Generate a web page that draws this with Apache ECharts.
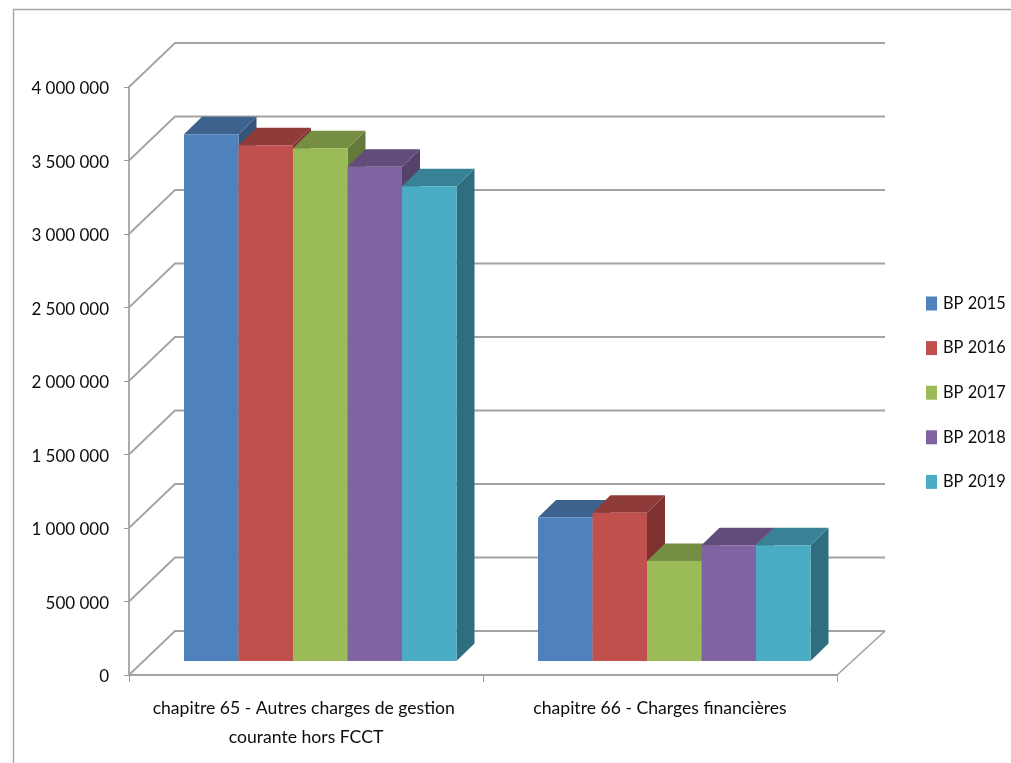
<!DOCTYPE html>
<html lang="fr">
<head>
<meta charset="utf-8">
<title>Charges par chapitre</title>
<script src="https://cdn.jsdelivr.net/npm/echarts@6/dist/echarts.min.js"></script>
<style>
  html, body { margin: 0; padding: 0; background: #fff; }
  #chart { width: 1011px; height: 763px; }
</style>
</head>
<body>
<div id="chart"></div>
<script>
// Budget lines per chapter
const categories = [
  'chapitre 65 - Autres charges de gestion courante hors FCCT',
  'chapitre 66 - Charges financières'
];
const bp2015 = [3584000, 977000];
const bp2016 = [3508000, 1008000];
const bp2017 = [3488000, 680000];
const bp2018 = [3363000, 787000];
const bp2019 = [3230000, 787000];
const seriesNames = ['BP 2015', 'BP 2016', 'BP 2017', 'BP 2018', 'BP 2019'];
const yTicks = [0, 500000, 1000000, 1500000, 2000000, 2500000, 3000000, 3500000, 4000000];

// Front, top and side shades of each column colour
const shades = [
  { front: '#4f81bd', top: '#3d628e', side: '#345579' },
  { front: '#c0504d', top: '#8e3b39', side: '#7d322f' },
  { front: '#9bbb59', top: '#768e44', side: '#657a3a' },
  { front: '#8064a2', top: '#614c7b', side: '#54426b' },
  { front: '#4bacc6', top: '#388296', side: '#2f6e80' }
];

// Oblique projection used for the pseudo 3D look
const WALL_DX = 46, WALL_DY = -44;   // floor depth, axis plane to back wall
const FRONT_DY = -14;                // axis plane to front of the columns
const COL_DX = 18, COL_DY = -17.5;   // depth of a column
const BAND_PAD = 55;                 // gap from category edge to first column
const COL_W = 54.5;

const gridLine = '#a3a3a3';
const labelColor = '#0d0d0d';

function poly(points, fill) {
  return { type: 'polygon', shape: { points }, style: { fill, stroke: null } };
}

function columnRenderer(seriesIdx) {
  return function (params, api) {
    const cat = api.value(0);
    const base = api.coord([cat, 0]);
    const head = api.coord([cat, api.value(1)]);
    const band = api.size([1, 0])[0];
    const x0 = base[0] - band / 2 + BAND_PAD + seriesIdx * COL_W;
    const x1 = x0 + COL_W;
    const yB = base[1] + FRONT_DY;
    const yT = head[1] + FRONT_DY;
    const c = shades[seriesIdx];
    return {
      type: 'group',
      children: [
        poly([[x1, yT], [x1 + COL_DX, yT + COL_DY], [x1 + COL_DX, yB + COL_DY], [x1, yB]], c.side),
        poly([[x0, yT], [x0 + COL_DX, yT + COL_DY], [x1 + COL_DX, yT + COL_DY], [x1, yT]], c.top),
        poly([[x0, yT], [x1, yT], [x1, yB], [x0, yB]], c.front)
      ]
    };
  };
}

// Gridlines run up the left side wall, then along the back wall
function wallRenderer(params, api) {
  const cs = params.coordSys;
  const p = api.coord([0, api.value(1)]);
  const left = cs.x;
  const right = cs.x + cs.width;
  const children = [{
    type: 'polyline',
    shape: { points: [[left, p[1]], [left + WALL_DX, p[1] + WALL_DY], [right + 48, p[1] + WALL_DY]] },
    style: { stroke: gridLine, lineWidth: 1.8, fill: null }
  }];
  if (api.value(1) === 0) {
    children.push({
      type: 'line',
      shape: { x1: right, y1: p[1], x2: right + 48, y2: p[1] + WALL_DY },
      style: { stroke: gridLine, lineWidth: 1.6 }
    });
  }
  return { type: 'group', children };
}

const seriesValues = [bp2015, bp2016, bp2017, bp2018, bp2019];

const option = {
  animation: false,
  backgroundColor: '#fff',
  textStyle: { fontFamily: 'Lato' },
  graphic: [
    { type: 'polyline', silent: true,
      shape: { points: [[13.5, 763], [13.5, 9.5], [1011, 9.5]] },
      style: { stroke: '#a6a6a6', lineWidth: 1.4, fill: null } }
  ],
  legend: {
    orient: 'vertical',
    left: 926,
    top: 292,
    padding: 0,
    itemWidth: 11,
    itemHeight: 14,
    itemGap: 21.6,
    icon: 'rect',
    data: seriesNames,
    textStyle: { fontFamily: 'Lato', fontSize: 16.4, color: labelColor, padding: [4, 0, 0, 1], lineHeight: 19 }
  },
  grid: { left: 129, right: 174, top: 87, bottom: 88 },
  xAxis: {
    type: 'category',
    data: categories,
    axisLine: { lineStyle: { color: gridLine, width: 1.8 } },
    axisTick: { show: true, length: 7, lineStyle: { color: '#9a9a9a', width: 1 } },
    axisLabel: {
      interval: 0, width: 345, overflow: 'break', margin: 19, lineHeight: 29,
      fontFamily: 'Lato', fontSize: 17.6, color: labelColor
    }
  },
  yAxis: {
    type: 'value',
    min: 0,
    max: 4000000,
    interval: 500000,
    splitLine: { show: false },
    axisLine: { show: true, lineStyle: { color: gridLine, width: 1.8 } },
    axisTick: { show: true, length: 5, lineStyle: { color: '#9a9a9a', width: 1 } },
    axisLabel: {
      margin: 20,
      // French thousands grouping with a narrow space
      formatter: v => '{tick|' + String(v).replace(/\B(?=(\d{3})+$)/g, '\u2005') + '}',
      rich: {
        tick: { fontFamily: 'Lato', fontSize: 17, color: labelColor, padding: [4, 0, 0, 0] }
      }
    }
  },
  series: [
    {
      type: 'custom',
      name: 'grille',
      silent: true,
      renderItem: wallRenderer,
      encode: { x: 0, y: 1 },
      data: yTicks.map(v => [0, v])
    }
  ].concat(seriesNames.map((name, i) => ({
    type: 'custom',
    name,
    itemStyle: { color: shades[i].front },
    renderItem: columnRenderer(i),
    encode: { x: 0, y: 1 },
    data: seriesValues[i].map((v, c) => [c, v])
  })))
};

const chart = echarts.init(document.getElementById('chart'), null, { renderer: 'canvas' });
chart.setOption(option);
</script>
</body>
</html>
